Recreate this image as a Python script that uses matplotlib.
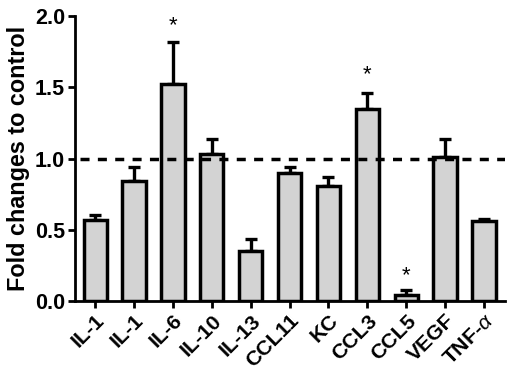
import matplotlib
matplotlib.use("Agg")
import matplotlib.pyplot as plt
import numpy as np

categories = ["IL-1", "IL-1", "IL-6", "IL-10", "IL-13", "CCL11", "KC", "CCL3", "CCL5", "VEGF", r"TNF-$\alpha$"]
values = [0.57, 0.84, 1.52, 1.03, 0.35, 0.90, 0.81, 1.35, 0.045, 1.01, 0.56]
errors = [0.035, 0.105, 0.295, 0.11, 0.085, 0.04, 0.06, 0.11, 0.033, 0.125, 0.02]
star_y = [None, None, 1.93, None, None, None, None, 1.59, 0.18, None, None]

plt.rcParams['font.family'] = ['Liberation Sans', 'DejaVu Sans']
plt.rcParams['mathtext.fontset'] = 'custom'
plt.rcParams['mathtext.it'] = 'Liberation Sans:italic'

fig = plt.figure(figsize=(5.1, 3.72), dpi=100)
ax = fig.add_axes([0.147, 0.19, 0.843, 0.767])

x = np.arange(len(categories))
ax.bar(x, values, width=0.6, color='#d3d3d3', edgecolor='black', linewidth=2.5, zorder=2)
ax.errorbar(x, values, yerr=[np.zeros(len(values)), errors], fmt='none', ecolor='black',
            elinewidth=2.4, capsize=4.6, capthick=2.4, zorder=1)

ax.plot([-0.38, 10.54], [1.0, 1.0], linestyle=(0, (2.6, 2.4)), color='black', linewidth=2.5, zorder=3)

for xi, sy in zip(x, star_y):
    if sy is not None:
        ax.text(xi, sy, '*', ha='center', va='center', fontsize=16, fontweight='normal')

ax.set_xlim(-0.52, 10.54)
ax.set_ylim(0, 2.0)
ax.set_yticks([0, 0.5, 1.0, 1.5, 2.0])
ax.set_yticklabels(['0.0', '0.5', '1.0', '1.5', '2.0'], fontsize=15.5, fontweight='bold')
ax.set_xticks(x)
ax.set_xticklabels(categories, rotation=45, ha='right', rotation_mode='anchor', fontsize=15.2, fontweight='bold')
ax.set_ylabel('Fold changes to control', fontsize=16.8, fontweight='bold', labelpad=4)

for side in ['top', 'right']:
    ax.spines[side].set_visible(False)
for side in ['left', 'bottom']:
    ax.spines[side].set_linewidth(2)
ax.tick_params(axis='both', width=2, length=5, direction='out')
ax.tick_params(axis='y', pad=2)
ax.tick_params(axis='x', pad=2)

fig.savefig('out.png', dpi=100)
